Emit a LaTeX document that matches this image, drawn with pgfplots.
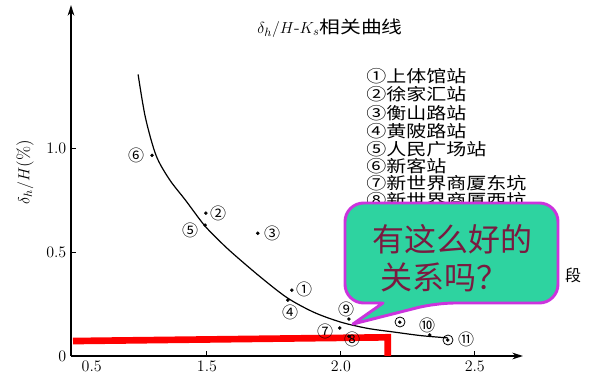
\documentclass[border=0pt]{standalone}
\usepackage{pgfplots}
\pgfplotsset{compat=1.18}
\usetikzlibrary{arrows.meta}
\usepackage{fontspec}
\newfontfamily\cjk{Noto Sans CJK SC}
\newfontfamily\cjkw[FakeStretch=1.2]{Noto Sans CJK SC}
\definecolor{bubblefill}{HTML}{2ED3A0}
\definecolor{bubbleborder}{HTML}{CC33DD}
\definecolor{textred}{HTML}{7A1A40}

\begin{document}
\begin{tikzpicture}
\path[use as bounding box] (0,0) rectangle (450pt,286.5pt);
\begin{axis}[
  at={(53.25pt,19.5pt)}, anchor=south west, scale only axis,
  width=339pt, height=263.25pt,
  xmin=0.9925, xmax=2.68, ymin=0, ymax=1.69,
  axis lines=left,
  axis line style={line width=1.1pt,-{Stealth[length=8pt,width=5pt]}},
  xtick={1.5,2,2.5}, xticklabels={1.5,2.0,2.5},
  extra x ticks={1.07}, extra x tick labels={0.5},
  extra x tick style={major tick length=0pt},
  ytick={0,0.5,1}, yticklabels={0,0.5,1.0},
  tick align=inside, major tick length=4pt,
  tick style={black, line width=0.8pt},
  ticklabel style={font=\large},
  clip=false]
\addplot[smooth, line width=0.9pt, black] coordinates {
 (1.243,1.356) (1.27,1.15) (1.31,0.966) (1.36,0.85) (1.42,0.75)
 (1.49,0.63) (1.55,0.55) (1.6,0.49) (1.7,0.38) (1.8,0.28)
 (1.9,0.21) (2.0,0.163) (2.1,0.133) (2.2,0.115) (2.3,0.098) (2.4,0.087)};
\addplot[only marks, mark=*, mark size=1.1pt, black] coordinates {
 (1.817,0.317) (1.496,0.688) (1.69,0.591) (1.802,0.269) (1.493,0.63)
 (1.295,0.966) (1.996,0.135) (2.03,0.095) (2.03,0.178) (2.332,0.101)
 (2.399,0.077) (2.22,0.163)};
\addplot[red, line width=5pt, line join=miter] coordinates {
 (1.0,0.072) (2.175,0.09) (2.175,0)};
\end{axis}
\begin{scope}[x=0.75pt,y=-0.75pt,yshift=286.5pt]
 % title and axis label
 \node[font=\fontsize{13}{15}\selectfont] at (330,28) {$\delta_h/H$-$K_s${\cjkw 相关曲线}};
 \node[rotate=90, font=\fontsize{13}{15}\selectfont] at (25,172) {$\delta_h/H$(\%)};
 % point labels
 \begin{scope}[every node/.style={font=\cjk\fontsize{12}{14}\selectfont, inner sep=0pt}]
  \node at (304,289) {①};
  \node at (218,213) {②};
  \node at (272,233) {③};
  \node at (290,312) {④};
  \node at (190,230) {⑤};
  \node at (136,155) {⑥};
  \node at (325,331) {⑦};
  \node at (352,339) {⑧};
  \node at (346,309) {⑨};
  \node at (427,325) {⑩};
  \node at (466,339) {⑪};
 \end{scope}
 \draw[line width=0.6pt] (400,322) circle (5);
 \draw[line width=0.6pt] (448,340) circle (5);
 % legend
 \begin{scope}[every node/.style={anchor=west, font=\cjkw\fontsize{12.5}{14}\selectfont, inner sep=0pt}]
  \node at (366,76) {①上体馆站};
  \node at (366,94) {②徐家汇站};
  \node at (366,113) {③衡山路站};
  \node at (366,131) {④黄陂路站};
  \node at (366,149) {⑤人民广场站};
  \node at (366,166) {⑥新客站};
  \node at (366,183) {⑦新世界商厦东坑};
  \node at (366,200) {⑧新世界商厦西坑};
 \end{scope}
 \node[font=\cjk\fontsize{12}{14}\selectfont] at (573,275) {段};
 % speech bubble
 \draw[draw=bubbleborder, line width=2.2pt, fill=bubblefill, line join=round]
   (383,303) [rounded corners=14pt] -- (345,303) -- (345,203) -- (558,203) -- (558,303) -- (436,303) [sharp corners] -- (353,324) -- cycle;
 \node[text=textred, font=\cjk\fontsize{24}{28}\selectfont] at (452,239) {有这么好的};
 \node[text=textred, font=\cjk\fontsize{24}{28}\selectfont] at (444,277) {关系吗？};
\end{scope}
\end{tikzpicture}
\end{document}
